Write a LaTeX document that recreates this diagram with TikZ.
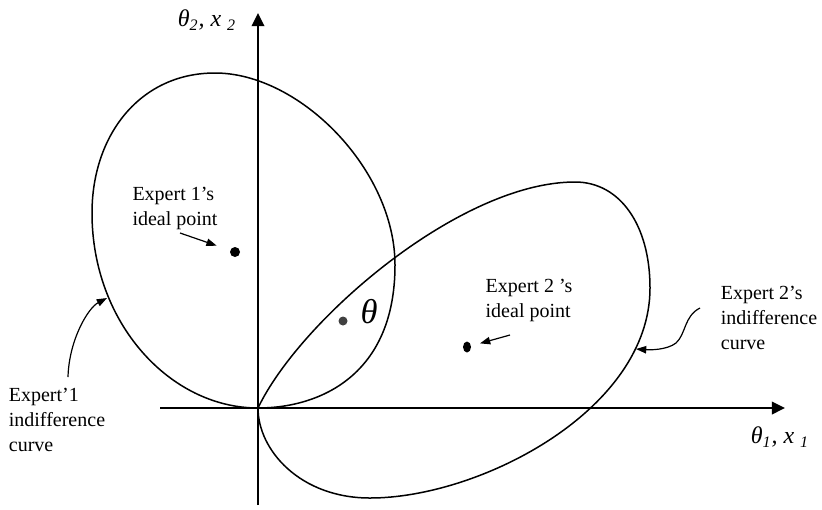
\documentclass[tikz,border=0pt]{standalone}
\usepackage{fontspec}
\setmainfont{Liberation Serif}
\usetikzlibrary{arrows.meta,positioning,shapes.geometric}

\begin{document}
\begin{tikzpicture}[
  x=0.5pt, y=-0.5pt,
  font=\fontsize{10}{12.5}\selectfont,
  axis/.style={line width=1pt, -{Triangle[length=2.3mm, width=2.2mm]}},
  curve/.style={line width=0.75pt},
  pointer/.style={line width=0.6pt, -{Triangle[length=1.8mm, width=1.3mm]}},
  ideal/.style={circle, fill=black, inner sep=0pt, minimum size=5pt},
  label/.style={align=left, inner sep=0pt},
]
\useasboundingbox (0,0) rectangle (822,509);

% axes
\coordinate (O) at (258,408);
\coordinate (ybot) at (258,505);
\coordinate (ytop) at (258,13);
\coordinate (xleft) at (160,408);
\coordinate (xright) at (785,408);
\draw[axis] (ybot) -- (ytop);
\draw[axis] (xleft) -- (xright);
\node[font=\large\itshape] (ylab) at (207,20) {θ\textsubscript{2}, x \textsubscript{2}};
\node[font=\large\itshape] (xlab) at (780,437) {θ\textsubscript{1}, x \textsubscript{1}};

% expert 1 indifference curve
\coordinate (c1left) at (92,213);
\coordinate (c1top) at (215,73);
\coordinate (c1right) at (395,265);
\draw[curve] (O) .. controls (170,408) and (92,323) .. (c1left)
  .. controls (92,135) and (140,73) .. (c1top)
  .. controls (300,73) and (395,170) .. (c1right)
  .. controls (395,375) and (320,408) .. (O) -- cycle;

% expert 2 indifference curve
\coordinate (c2top) at (575,182);
\coordinate (c2right) at (650,288);
\coordinate (c2bot) at (370,498);
\draw[curve] (O) .. controls (300,320) and (460,182) .. (c2top)
  .. controls (620,182) and (650,225) .. (c2right)
  .. controls (650,410) and (480,498) .. (c2bot)
  .. controls (300,498) and (258,450) .. (O) -- cycle;

% ideal points
\node[ideal] (e1dot) at (235,252) {};
\node[ellipse, fill=black, inner sep=0pt, minimum width=4pt, minimum height=5.5pt] (e2dot) at (467,347) {};
\node[circle, fill=black!75, inner sep=0pt, minimum size=4.5pt] (thdot) at (343,321) {};
\node[font=\LARGE\itshape] (thlab) at (369,312) {θ};

\node[label] (e1txt) at (175,208) {Expert 1’s\\ideal point};
\node[label] (e2txt) at (529,300) {Expert 2 ’s\\ideal point};
\coordinate (e1from) at (180,233);
\coordinate (e2from) at (510,335);
\draw[pointer, shorten >=7pt] (e1from) -- (e1dot);
\draw[pointer, shorten >=4.5pt] (e2from) -- (e2dot);

% curve labels
\node[label] (c1txt) at (57,420) {Expert’1\\indifference\\curve};
\node[label] (c2txt) at (769,318) {Expert 2’s\\indifference\\curve};
\coordinate (c1from) at (68,377);
\coordinate (c1on) at (107,298);
\coordinate (c2from) at (700,308);
\coordinate (c2on) at (636,349);
\draw[pointer] (c1from) .. controls (69,340) and (88,308) .. (c1on);
\draw[pointer] (c2from) .. controls (684,316) and (686,334) .. (676,343)
  .. controls (667,350) and (650,350) .. (c2on);

\end{tikzpicture}
\end{document}
